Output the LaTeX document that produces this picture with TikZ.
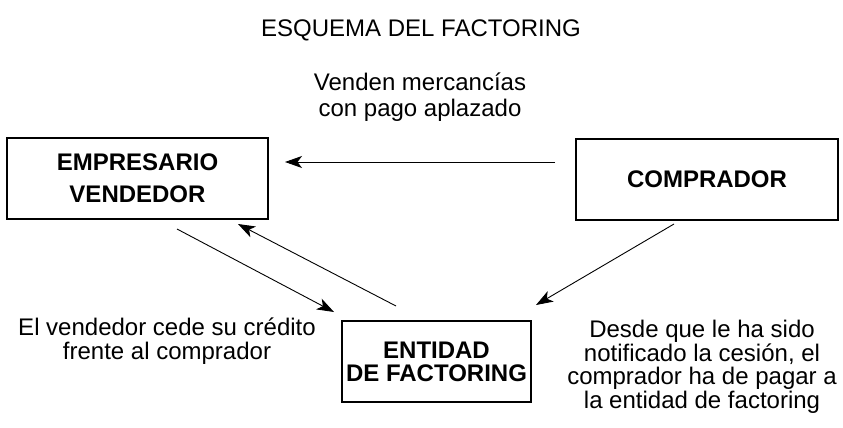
\documentclass[tikz,border=0pt]{standalone}
\usepackage{fontspec}
\setmainfont{Liberation Sans}
\usetikzlibrary{arrows.meta}
\begin{document}
\begin{tikzpicture}[x=1pt,y=-1pt,
  box/.style={draw,line width=1.3pt,inner sep=0pt,minimum height=81pt,align=center,font=\fontsize{24}{32}\selectfont\bfseries},
  lbl/.style={align=center,inner sep=0pt,font=\fontsize{24}{23.5}\selectfont},
  arr/.style={line width=0.9pt,-{Stealth[length=17pt,width=12pt,inset=4.5pt]}}]
\useasboundingbox (0,0) rectangle (843,428);
\node[lbl] (title) at (421,30) {ESQUEMA DEL FACTORING};
\node[lbl,font=\fontsize{24}{26}\selectfont] (venden) at (420,97) {Venden mercancías\\con pago aplazado};
\node[box,minimum width=261pt] (emp) at (137.5,178.5) {EMPRESARIO\\VENDEDOR};
\node[box,minimum width=262pt] (comp) at (707,179.5) {COMPRADOR};
\node[box,minimum width=189pt,font=\fontsize{24}{23}\selectfont\bfseries] (ent) at (436.5,361.5) {ENTIDAD\\DE FACTORING};
\node[lbl] (cede) at (167,341) {El vendedor cede su crédito\\frente al comprador};
\node[lbl] (desde) at (702,367) {Desde que le ha sido\\notificado la cesión, el\\comprador ha de pagar a\\la entidad de factoring};
\coordinate (c1s) at (555,162);
\coordinate (c1e) at (285,162);
\coordinate (c2s) at (177,229);
\coordinate (c2e) at (334,312);
\coordinate (c3s) at (396,306);
\coordinate (c3e) at (238,224);
\coordinate (c4s) at (674,224);
\coordinate (c4e) at (536,305);
\draw[arr] (c1s) -- (c1e);
\draw[arr] (c2s) -- (c2e);
\draw[arr] (c3s) -- (c3e);
\draw[arr] (c4s) -- (c4e);
\end{tikzpicture}
\end{document}
